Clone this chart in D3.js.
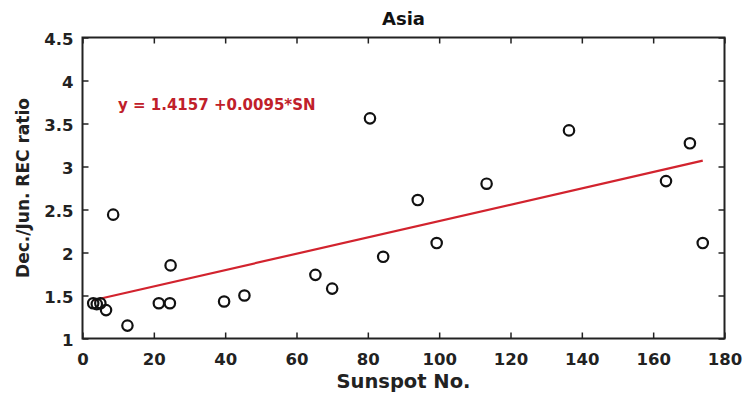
<!DOCTYPE html>
<html>
<head>
<meta charset="utf-8">
<script src="https://cdn.jsdelivr.net/npm/d3@7/dist/d3.min.js"></script>
<style>
  html, body { margin: 0; padding: 0; background: #fff; }
  svg { display: block; }
  text { font-family: "DejaVu Sans", sans-serif; }
</style>
</head>
<body>
<svg id="chart" width="746" height="397"></svg>
<script>
// Sunspot number vs. December/June REC ratio, Asia
const sunspot = [3.0, 4.0, 5.0, 6.6, 8.6, 12.6, 21.4, 24.5, 24.7, 39.7, 45.4, 65.3, 70.0, 80.6, 84.3, 94.0, 99.3, 113.3, 136.4, 163.6, 170.3, 173.9];
const ratio   = [1.41, 1.40, 1.41, 1.33, 2.44, 1.15, 1.41, 1.41, 1.85, 1.43, 1.50, 1.74, 1.58, 3.56, 1.95, 2.61, 2.11, 2.80, 3.42, 2.83, 3.27, 2.11];

// Linear fit y = a + b*SN
const fitIntercept = 1.4157;
const fitSlope = 0.0095;

const xTicks = [0, 20, 40, 60, 80, 100, 120, 140, 160, 180];
const yTicks = [1, 1.5, 2, 2.5, 3, 3.5, 4, 4.5];

const svg = d3.select("#chart");
const m = { left: 82.5, right: 724.5, top: 37.5, bottom: 338.5 };

const x = d3.scaleLinear().domain([0, 180]).range([m.left, m.right]);
const y = d3.scaleLinear().domain([1, 4.5]).range([m.bottom, m.top]);

const axisColor = "#222";
const tickFont = 16.5;

// Box
svg.append("rect")
  .attr("x", m.left).attr("y", m.top)
  .attr("width", m.right - m.left).attr("height", m.bottom - m.top)
  .attr("fill", "none").attr("stroke", axisColor).attr("stroke-width", 2);

// Bottom axis (ticks inward)
const xAxis = svg.append("g")
  .attr("transform", `translate(0,${m.bottom})`)
  .call(d3.axisBottom(x).tickValues(xTicks).tickSizeInner(-6).tickSizeOuter(0).tickPadding(0)
    .tickFormat(d3.format("d")));
xAxis.select(".domain").remove();
xAxis.selectAll("line").attr("stroke", axisColor).attr("stroke-width", 1.5);
xAxis.selectAll("text").attr("font-size", tickFont).attr("font-weight", "bold").attr("fill", "#222")
  .attr("y", 26.5).attr("dy", null);

// Top axis ticks
const xTop = svg.append("g")
  .attr("transform", `translate(0,${m.top})`)
  .call(d3.axisTop(x).tickValues(xTicks).tickSizeInner(-6).tickSizeOuter(0).tickFormat(""));
xTop.select(".domain").remove();
xTop.selectAll("line").attr("stroke", axisColor).attr("stroke-width", 1.5);

// Left axis
const yAxis = svg.append("g")
  .attr("transform", `translate(${m.left},0)`)
  .call(d3.axisLeft(y).tickValues(yTicks).tickSizeInner(-6).tickSizeOuter(0).tickPadding(9)
    .tickFormat(d => d3.format("")(d)));
yAxis.select(".domain").remove();
yAxis.selectAll("line").attr("stroke", axisColor).attr("stroke-width", 1.5);
yAxis.selectAll("text").attr("font-size", tickFont).attr("font-weight", "bold").attr("fill", "#222")
  .attr("dy", "0.45em");

// Right axis ticks
const yRight = svg.append("g")
  .attr("transform", `translate(${m.right},0)`)
  .call(d3.axisRight(y).tickValues(yTicks).tickSizeInner(-6).tickSizeOuter(0).tickFormat(""));
yRight.select(".domain").remove();
yRight.selectAll("line").attr("stroke", axisColor).attr("stroke-width", 1.5);

// Regression line over the data range
const xMin = d3.min(sunspot), xMax = d3.max(sunspot);
svg.append("line")
  .attr("x1", x(xMin)).attr("y1", y(fitIntercept + fitSlope * xMin))
  .attr("x2", x(xMax)).attr("y2", y(fitIntercept + fitSlope * xMax))
  .attr("stroke", "#d2232e").attr("stroke-width", 2.2);

// Data points
svg.append("g").selectAll("circle")
  .data(sunspot.map((s, i) => [s, ratio[i]]))
  .join("circle")
  .attr("cx", d => x(d[0])).attr("cy", d => y(d[1]))
  .attr("r", 5.2)
  .attr("fill", "none").attr("stroke", "#111").attr("stroke-width", 2.2);

// Fit equation
svg.append("text")
  .attr("x", 118).attr("y", 110)
  .attr("font-size", 15).attr("font-weight", "bold").attr("fill", "#c0202a")
  .text("y = 1.4157 +0.0095*SN");

// Title
svg.append("text")
  .attr("x", (m.left + m.right) / 2).attr("y", 25)
  .attr("text-anchor", "middle").attr("font-size", 18).attr("font-weight", "bold").attr("fill", "#111")
  .text("Asia");

// Axis labels
svg.append("text")
  .attr("x", (m.left + m.right) / 2).attr("y", 388)
  .attr("text-anchor", "middle").attr("font-size", 19.5).attr("font-weight", "bold").attr("fill", "#222")
  .text("Sunspot No.");

svg.append("text")
  .attr("transform", `translate(29,${(m.top + m.bottom) / 2}) rotate(-90)`)
  .attr("text-anchor", "middle").attr("font-size", 17).attr("font-weight", "bold").attr("fill", "#222")
  .text("Dec./Jun. REC ratio");
</script>
</body>
</html>
